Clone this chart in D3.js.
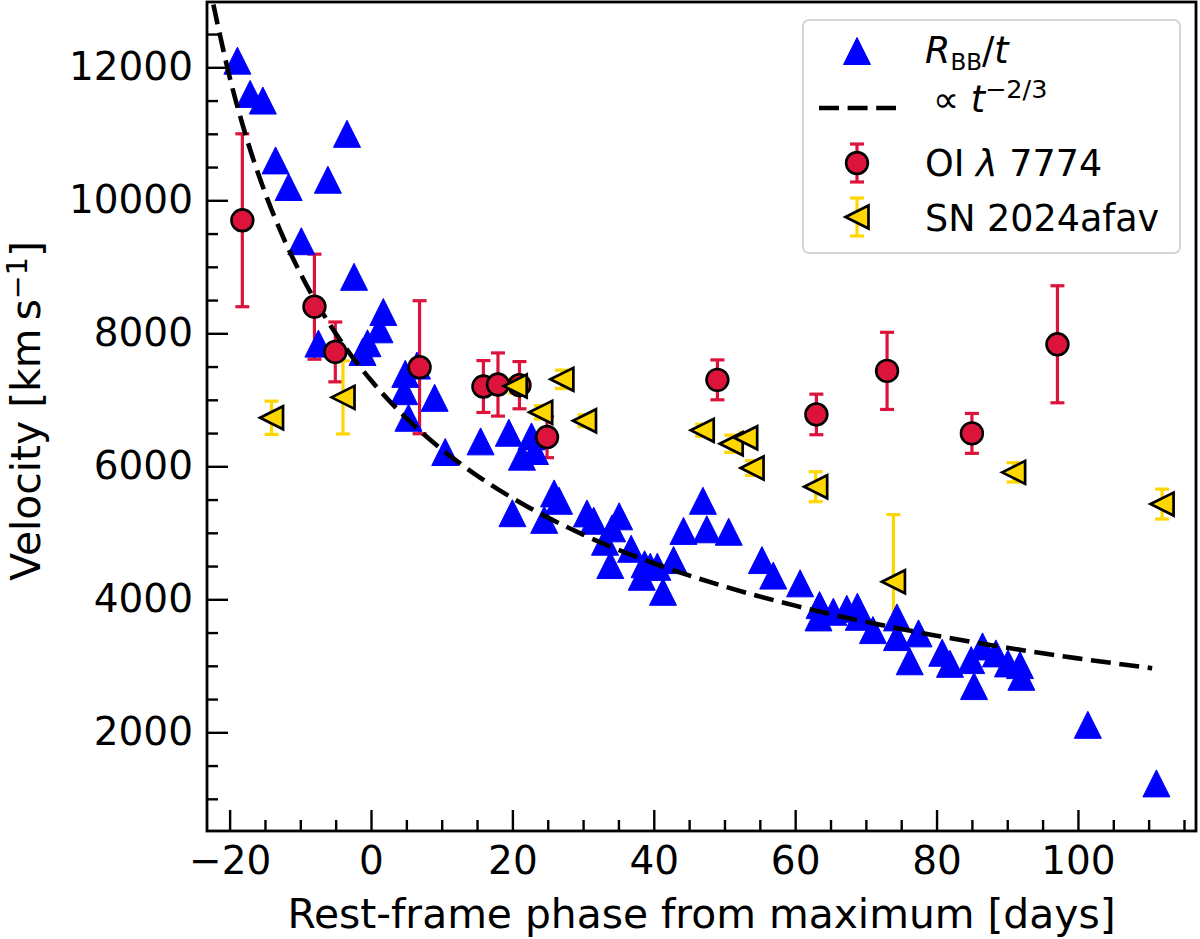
<!DOCTYPE html>
<html>
<head>
<meta charset="utf-8">
<script src="https://cdn.jsdelivr.net/npm/d3@7"></script>
<style>
    body { margin: 0; background: #ffffff; }
    svg { display: block; font-family: "DejaVu Sans", sans-serif; }
</style>
</head>
<body>
<div id="chart"></div>
<script>

// R_BB / t (blue triangles)
const rbbPhase = [-18.9, -17.1, -15.3, -3.4, -13.5, -11.65, -6.1, -9.86, -2.4, -7.44,
    1.74, 1.2, -0.5, -1.2, 4.85, 4.7, 5.3, 9.0, 6.5, 10.5,
    15.5, 19.5, 21.35, 22.7, 23.2, 20.0, 25.9, 26.6, 24.5, 30.55,
    31.5, 35.1, 34.1, 33.1, 33.85, 36.8, 38.7, 39.5, 38.3, 40.5,
    41.3, 42.8, 46.95, 44.2, 47.5, 50.6, 55.3, 56.9, 60.7, 63.45,
    63.3, 65.4, 67.3, 68.8, 69.0, 71.0, 74.4, 74.4, 76.2, 77.45,
    80.8, 81.9, 84.9, 85.3, 86.5, 88.4, 90.1, 91.8, 92.0, 101.4, 111.1];
const rbbVel = [12100, 11600, 11500, 11000, 10600, 10200, 10310, 9385, 8850, 7845,
    8320, 8060, 7850, 7720, 7390, 7130, 6730, 7030, 7515, 6215,
    6375, 6505, 6145, 6450, 6230, 5295, 5593, 5482, 5195, 5292,
    5181, 5248, 5067, 4866, 4515, 4760, 4527, 4489, 4339, 4489,
    4113, 4590, 5482, 5029, 5053, 5016, 4590, 4357, 4240, 3913,
    3728, 3813, 3858, 3888, 3737, 3537, 3728, 3432, 3068, 3488,
    3196, 3030, 3086, 2695, 3292, 3187, 3036, 3011, 2835, 2113, 1232];

// ∝ t^(-2/3) curve
const fitPhase = [-22.3, -20, -18, -15, -12, -10, -5, 0, 5, 10, 15, 20, 30, 40, 50, 60, 70, 80, 90, 100, 110.5];
const fitVel = [12944, 11854, 11076, 10118, 9344, 8904, 7999, 7293, 6725, 6256, 5861, 5523, 4973, 4542, 4193, 3905, 3661, 3453, 3271, 3112, 2964];

// OI λ7774 (red circles)
const oiPhase = [-18.2, -8.0, -5.05, 6.87, 15.9, 17.96, 21.0, 24.9, 49.0, 63.0, 73.0, 85.0, 97.1];
const oiVel = [9700, 8400, 7720, 7490, 7200, 7230, 7220, 6440, 7300, 6780, 7435, 6495, 7835];
const oiErr = [1300, 790, 450, 1000, 390, 475, 355, 310, 300, 305, 580, 300, 880];

// SN 2024afav (yellow triangles)
const snPhase = [-14.07, -3.96, 20.4, 27.0, 24.0, 30.2, 46.85, 50.95, 53.0, 53.9, 62.9, 73.9, 90.9, 111.9];
const snVel = [6730, 7037, 7207, 7308, 6812, 6685, 6541, 6339, 6430, 5974, 5693, 4264, 5909, 5432];
const snErr = [250, 550, 110, 138, 100, 90, 90, 130, 80, 110, 225, 1010, 145, 225];

const xTicks = [-20, 0, 20, 40, 60, 80, 100];
const yTicks = [2000, 4000, 6000, 8000, 10000, 12000];

const blue = '#0000ff', crimson = '#dc143c', gold = '#ffd700';

const width = 1200, height = 939;
const plot = {left: 207, right: 1196, top: 2, bottom: 831};

let svg = d3.select('#chart').append('svg')
    .attr('width', width)
    .attr('height', height);

let x = d3.scaleLinear().domain([-23.2, 116.7]).range([plot.left, plot.right]);
let y = d3.scaleLinear().domain([516, 12982]).range([plot.bottom, plot.top]);

// marker shapes (matplotlib style: bbox centred)
function triUp(cx, cy, s) {
    let h = s / 2, p = d3.path();
    p.moveTo(cx, cy - h); p.lineTo(cx + h, cy + h); p.lineTo(cx - h, cy + h); p.closePath();
    return p.toString();
}
function triLeft(cx, cy, s) {
    let h = s / 2, p = d3.path();
    p.moveTo(cx - h, cy); p.lineTo(cx + h, cy - h); p.lineTo(cx + h, cy + h); p.closePath();
    return p.toString();
}

svg.append('clipPath').attr('id', 'clip')
    .append('rect')
    .attr('x', plot.left).attr('y', plot.top)
    .attr('width', plot.right - plot.left).attr('height', plot.bottom - plot.top);

// ---- axes (ticks inward) ----
let xMinor = d3.range(-20, 116, 5).filter(v => v % 20 !== 0);
let yMinor = d3.range(1000, 13000, 500).filter(v => v % 2000 !== 0);

svg.append('g')
    .attr('transform', `translate(0,${plot.bottom})`)
    .call(d3.axisBottom(x).tickValues(xTicks).tickSize(-21).tickPadding(15.5));
svg.append('g')
    .attr('transform', `translate(0,${plot.bottom})`)
    .call(d3.axisBottom(x).tickValues(xMinor).tickSize(-11).tickFormat(''));

svg.append('g')
    .attr('transform', `translate(${plot.left},0)`)
    .call(d3.axisLeft(y).tickValues(yTicks).tickSize(-21).tickPadding(14).tickFormat(d3.format('d')));
svg.append('g')
    .attr('transform', `translate(${plot.left},0)`)
    .call(d3.axisLeft(y).tickValues(yMinor).tickSize(-11).tickFormat(''));

svg.selectAll('.domain').remove();
svg.selectAll('.tick line').attr('stroke', '#000').attr('stroke-width', 2.4);
svg.selectAll('.tick text')
    .attr('font-family', '"DejaVu Sans", sans-serif')
    .attr('font-size', 39)
    .attr('fill', '#000');

// axis labels
svg.append('text')
    .attr('x', (plot.left + plot.right) / 2)
    .attr('y', 928)
    .attr('text-anchor', 'middle')
    .attr('font-size', 40.8)
    .text('Rest-frame phase from maximum [days]');

let yl = svg.append('text')
    .attr('transform', 'translate(40,411) rotate(-90)')
    .attr('text-anchor', 'middle')
    .attr('font-size', 40.8);
yl.append('tspan').text('Velocity [km\u2009s');
yl.append('tspan').attr('dy', -13).attr('font-size', 28.5).text('\u22121');
yl.append('tspan').attr('dy', 13).text(']');

// ---- data ----
let body = svg.append('g').attr('clip-path', 'url(#clip)');

function errBars(g, ph, vel, err, color) {
    ph.forEach((p, i) => {
        let cx = x(p), y0 = y(vel[i] - err[i]), y1 = y(vel[i] + err[i]);
        g.append('line').attr('x1', cx).attr('x2', cx).attr('y1', y0).attr('y2', y1)
            .attr('stroke', color).attr('stroke-width', 3.2);
        [y0, y1].forEach(cy => {
            g.append('line').attr('x1', cx - 7).attr('x2', cx + 7).attr('y1', cy).attr('y2', cy)
                .attr('stroke', color).attr('stroke-width', 3.2);
        });
    });
}

errBars(body.append('g'), oiPhase, oiVel, oiErr, crimson);
errBars(body.append('g'), snPhase, snVel, snErr, gold);

body.append('g').selectAll('path')
    .data(rbbPhase)
    .enter().append('path')
    .attr('d', (d, i) => triUp(x(d), y(rbbVel[i]), 27))
    .attr('fill', blue)
    .attr('stroke', blue)
    .attr('stroke-width', 1);

let fitLine = d3.line()
    .x(d => x(d[0]))
    .y(d => y(d[1]))
    .curve(d3.curveMonotoneX);

body.append('path')
    .datum(fitPhase.map((p, i) => [p, fitVel[i]]))
    .attr('d', fitLine)
    .attr('fill', 'none')
    .attr('stroke', '#000')
    .attr('stroke-width', 4.6)
    .attr('stroke-dasharray', '20,8.6');

body.append('g').selectAll('circle')
    .data(oiPhase)
    .enter().append('circle')
    .attr('cx', d => x(d))
    .attr('cy', (d, i) => y(oiVel[i]))
    .attr('r', 10.9)
    .attr('fill', crimson)
    .attr('stroke', '#000')
    .attr('stroke-width', 2.6);

body.append('g').selectAll('path')
    .data(snPhase)
    .enter().append('path')
    .attr('d', (d, i) => triLeft(x(d), y(snVel[i]), 23))
    .attr('fill', gold)
    .attr('stroke', '#000')
    .attr('stroke-width', 2.7)
    .attr('stroke-linejoin', 'miter');

// frame
svg.append('rect')
    .attr('x', plot.left).attr('y', plot.top)
    .attr('width', plot.right - plot.left).attr('height', plot.bottom - plot.top)
    .attr('fill', 'none').attr('stroke', '#000').attr('stroke-width', 2.8);

// ---- legend ----
let leg = svg.append('g');
leg.append('rect')
    .attr('x', 803).attr('y', 20).attr('width', 377).attr('height', 233).attr('rx', 6)
    .attr('fill', '#fff').attr('fill-opacity', 0.8)
    .attr('stroke', '#d6d6d6').attr('stroke-width', 2);

let mx = 857, tx = 925, fs = 36.5;

leg.append('path').attr('d', triUp(mx, 51, 27)).attr('fill', blue).attr('stroke', blue).attr('stroke-width', 1);
let t1 = leg.append('text').attr('x', tx).attr('y', 63).attr('font-size', fs);
t1.append('tspan').attr('font-style', 'italic').text('R');
t1.append('tspan').attr('font-size', 23).attr('dy', 7).text('BB');
t1.append('tspan').attr('dy', -7).text('/');
t1.append('tspan').attr('font-style', 'italic').text('t');

leg.append('line').attr('x1', 819).attr('x2', 896).attr('y1', 108).attr('y2', 108)
    .attr('stroke', '#000').attr('stroke-width', 4.6).attr('stroke-dasharray', '20,8.6');
let t2 = leg.append('text').attr('x', 933).attr('y', 112).attr('font-size', fs);
t2.append('tspan').text('\u221d ');
t2.append('tspan').attr('font-style', 'italic').text('t');
t2.append('tspan').attr('font-size', 25.5).attr('dy', -14).text('\u22122/3');

// legend error-bar handles
[[163, crimson], [217, gold]].forEach(([cy, col]) => {
    leg.append('line').attr('x1', mx).attr('x2', mx).attr('y1', cy - 19).attr('y2', cy + 19)
        .attr('stroke', col).attr('stroke-width', 3.2);
    [cy - 19, cy + 19].forEach(yy => leg.append('line')
        .attr('x1', mx - 7).attr('x2', mx + 7).attr('y1', yy).attr('y2', yy)
        .attr('stroke', col).attr('stroke-width', 3.2));
});
leg.append('circle').attr('cx', mx).attr('cy', 163).attr('r', 10.9)
    .attr('fill', crimson).attr('stroke', '#000').attr('stroke-width', 2.6);
let t3 = leg.append('text').attr('x', tx).attr('y', 176).attr('font-size', fs);
t3.append('tspan').text('OI ');
t3.append('tspan').attr('font-style', 'italic').text('\u03bb');
t3.append('tspan').text(' 7774');

leg.append('path').attr('d', triLeft(mx, 217, 23)).attr('fill', gold)
    .attr('stroke', '#000').attr('stroke-width', 2.7);
leg.append('text').attr('x', tx).attr('y', 231).attr('font-size', fs).text('SN 2024afav');

</script>
</body>
</html>
